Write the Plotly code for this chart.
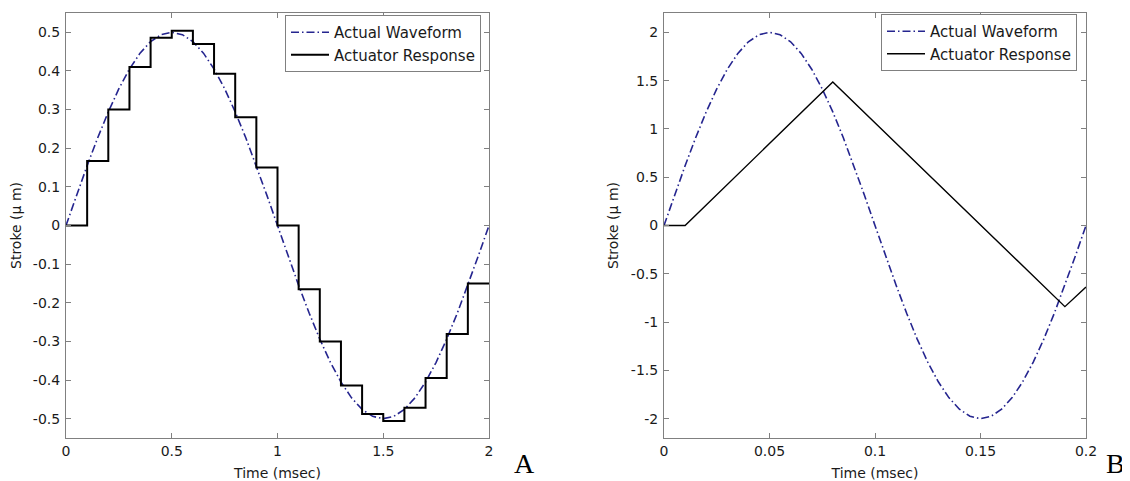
import plotly.graph_objects as go

# ---------------- Panel A data ----------------
a_wave_t = [0.00, 0.05, 0.10, 0.15, 0.20, 0.25, 0.30, 0.35, 0.40, 0.45,
            0.50, 0.55, 0.60, 0.65, 0.70, 0.75, 0.80, 0.85, 0.90, 0.95,
            1.00, 1.05, 1.10, 1.15, 1.20, 1.25, 1.30, 1.35, 1.40, 1.45,
            1.50, 1.55, 1.60, 1.65, 1.70, 1.75, 1.80, 1.85, 1.90, 1.95, 2.00]
a_wave_y = [0.000, 0.078, 0.155, 0.227, 0.294, 0.354, 0.405, 0.446, 0.476, 0.494,
            0.500, 0.494, 0.476, 0.446, 0.405, 0.354, 0.294, 0.227, 0.155, 0.078,
            0.000, -0.078, -0.155, -0.227, -0.294, -0.354, -0.405, -0.446, -0.476, -0.494,
            -0.500, -0.494, -0.476, -0.446, -0.405, -0.354, -0.294, -0.227, -0.155, -0.078, 0.000]

a_step_t = [0.0, 0.1, 0.2, 0.3, 0.4, 0.5, 0.6, 0.7, 0.8, 0.9,
            1.0, 1.1, 1.2, 1.3, 1.4, 1.5, 1.6, 1.7, 1.8, 1.9, 2.0]
a_step_y = [0.0, 0.167, 0.300, 0.410, 0.486, 0.504, 0.470, 0.393, 0.280, 0.150,
            0.0, -0.165, -0.300, -0.414, -0.488, -0.506, -0.472, -0.395, -0.281, -0.150, -0.150]

a_xticks = [0, 0.5, 1, 1.5, 2]
a_xticklabels = ["0", "0.5", "1", "1.5", "2"]
a_yticks = [-0.5, -0.4, -0.3, -0.2, -0.1, 0, 0.1, 0.2, 0.3, 0.4, 0.5]
a_yticklabels = ["-0.5", "-0.4", "-0.3", "-0.2", "-0.1", "0", "0.1", "0.2", "0.3", "0.4", "0.5"]

# ---------------- Panel B data ----------------
b_wave_t = [0.000, 0.005, 0.010, 0.015, 0.020, 0.025, 0.030, 0.035, 0.040, 0.045,
            0.050, 0.055, 0.060, 0.065, 0.070, 0.075, 0.080, 0.085, 0.090, 0.095,
            0.100, 0.105, 0.110, 0.115, 0.120, 0.125, 0.130, 0.135, 0.140, 0.145,
            0.150, 0.155, 0.160, 0.165, 0.170, 0.175, 0.180, 0.185, 0.190, 0.195, 0.200]
b_wave_y = [0.000, 0.313, 0.618, 0.908, 1.176, 1.414, 1.618, 1.782, 1.902, 1.975,
            2.000, 1.975, 1.902, 1.782, 1.618, 1.414, 1.176, 0.908, 0.618, 0.313,
            0.000, -0.313, -0.618, -0.908, -1.176, -1.414, -1.618, -1.782, -1.902, -1.975,
            -2.000, -1.975, -1.902, -1.782, -1.618, -1.414, -1.176, -0.908, -0.618, -0.313, 0.000]

b_resp_t = [0.0, 0.01, 0.08, 0.19, 0.2]
b_resp_y = [0.0, 0.0, 1.485, -0.84, -0.638]

b_xticks = [0, 0.05, 0.1, 0.15, 0.2]
b_xticklabels = ["0", "0.05", "0.1", "0.15", "0.2"]
b_yticks = [-2, -1.5, -1, -0.5, 0, 0.5, 1, 1.5, 2]
b_yticklabels = ["-2", "-1.5", "-1", "-0.5", "0", "0.5", "1", "1.5", "2"]

series_names = ["Actual Waveform", "Actuator Response"]
panel_letters = ["A", "B"]

# ---------------- styles ----------------
WAVE_COLOR = "#25258f"
AXIS_COLOR = "#808080"
TXT = "#1a1a1a"
FONT = "DejaVu Sans"
DASHDOT = "8px,3px,1.5px,3px"

# page body has an 8px margin: work in page pixels, shift by OFF
OFF = 8
W, H = 1130 - OFF, 481 - OFF
PX_L, PX_R, PX_T, PX_B = 66, 1086, 13, 438   # plot box in page pixels
L = PX_L - OFF
R = W - (PX_R - OFF)
T = PX_T - OFF
B = H - (PX_B - OFF)
pw = PX_R - PX_L
ph = PX_B - PX_T


def px(xp):
    return (xp - PX_L) / pw


def py(yp):
    return (PX_B - yp) / ph


fig = go.Figure()

fig.add_trace(go.Scatter(x=a_wave_t, y=a_wave_y, mode="lines", name=series_names[0],
                         line=dict(color=WAVE_COLOR, width=1.6, dash=DASHDOT),
                         xaxis="x", yaxis="y", legend="legend"))
fig.add_trace(go.Scatter(x=a_step_t, y=a_step_y, mode="lines", name=series_names[1],
                         line=dict(color="black", width=2, shape="hv"),
                         xaxis="x", yaxis="y", legend="legend"))
fig.add_trace(go.Scatter(x=b_wave_t, y=b_wave_y, mode="lines", name=series_names[0],
                         line=dict(color=WAVE_COLOR, width=1.6, dash=DASHDOT),
                         xaxis="x2", yaxis="y2", legend="legend2"))
fig.add_trace(go.Scatter(x=b_resp_t, y=b_resp_y, mode="lines", name=series_names[1],
                         line=dict(color="black", width=1.4),
                         xaxis="x2", yaxis="y2", legend="legend2"))

axis_common = dict(showgrid=False, zeroline=False, showline=True, linecolor=AXIS_COLOR,
                   linewidth=1, mirror="ticks", ticks="inside", ticklen=5,
                   tickcolor=AXIS_COLOR, tickwidth=1, automargin=False,
                   tickfont=dict(family=FONT, size=14, color=TXT))

left_dom = [0, px(489)]
right_dom = [px(664), 1.0]

legend_common = dict(bgcolor="white", bordercolor=AXIS_COLOR, borderwidth=1,
                     font=dict(family=FONT, size=15, color=TXT),
                     xanchor="right", yanchor="top", tracegroupgap=0,
                     itemwidth=38, entrywidth=190, entrywidthmode="pixels")

title_font = dict(family=FONT, size=14, color=TXT)

fig.update_layout(
    width=W, height=H,
    margin=dict(l=L, r=R, t=T, b=B, autoexpand=False),
    paper_bgcolor="white", plot_bgcolor="white",
    showlegend=True,
    xaxis=dict(domain=left_dom, range=[0, 2], tickvals=a_xticks, ticktext=a_xticklabels,
               anchor="y", ticklabelstandoff=0,
               title=dict(text="Time (msec)", font=title_font, standoff=14),
               **axis_common),
    yaxis=dict(domain=[0, 1], range=[-0.55, 0.55], tickvals=a_yticks, ticktext=a_yticklabels,
               anchor="x", ticklabelstandoff=2,
               title=dict(text="Stroke (\u03bc m)", font=title_font, standoff=8),
               **axis_common),
    xaxis2=dict(domain=right_dom, range=[0, 0.2], tickvals=b_xticks, ticktext=b_xticklabels,
                anchor="y2", ticklabelstandoff=0,
                title=dict(text="Time (msec)", font=title_font, standoff=14),
                **axis_common),
    yaxis2=dict(domain=[0, 1], range=[-2.2, 2.2], tickvals=b_yticks, ticktext=b_yticklabels,
                anchor="x2", ticklabelstandoff=2,
                title=dict(text="Stroke (\u03bc m)", font=title_font, standoff=8),
                **axis_common),
    legend=dict(x=px(481), y=py(15), **legend_common),
    legend2=dict(x=px(1077), y=py(14), **legend_common),
)

fig.add_annotation(text=panel_letters[0], xref="paper", yref="paper",
                   x=px(524), y=py(480.5),
                   xanchor="center", yanchor="bottom", showarrow=False,
                   font=dict(family="Liberation Serif", size=28, color="black"))
fig.add_annotation(text=panel_letters[1], xref="paper", yref="paper",
                   x=px(1115), y=py(480.5),
                   xanchor="center", yanchor="bottom", showarrow=False,
                   font=dict(family="Liberation Serif", size=28, color="black"))

fig.write_html("out.html")
